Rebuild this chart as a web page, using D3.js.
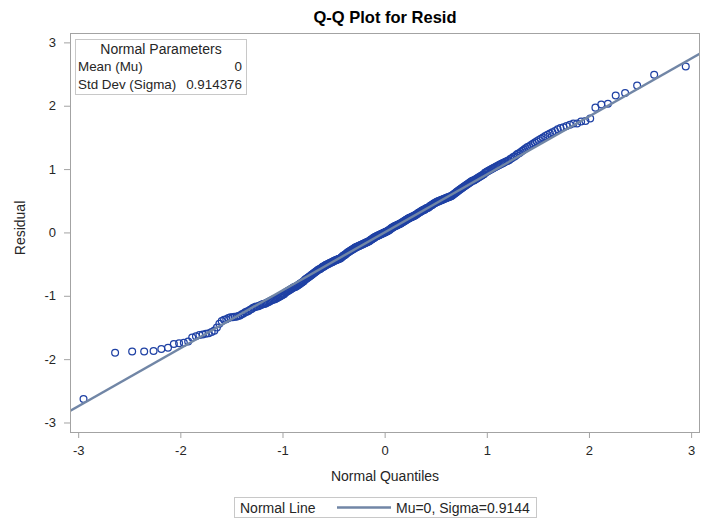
<!DOCTYPE html>
<html>
<head>
<meta charset="utf-8">
<script src="https://cdn.jsdelivr.net/npm/d3@7"></script>
<style>
  html, body { margin: 0; padding: 0; background: #fff; }
  svg { display: block; font-family: "Liberation Sans", Arial, sans-serif; }
</style>
</head>
<body>
<svg id="chart" width="712" height="519"></svg>
<script>
// Sorted residuals (one per observation)
const residuals = [
  -2.63, -1.90, -1.88, -1.88, -1.87, -1.84, -1.82, -1.76, -1.75, -1.74,
  -1.72, -1.66, -1.64, -1.62, -1.61, -1.60, -1.59, -1.57, -1.55, -1.50,
  -1.44, -1.40, -1.38, -1.37, -1.35, -1.34, -1.34, -1.33, -1.33, -1.32,
  -1.31, -1.29, -1.28, -1.26, -1.25, -1.24, -1.22, -1.21, -1.19, -1.18,
  -1.17, -1.17, -1.16, -1.15, -1.14, -1.13, -1.13, -1.12, -1.11, -1.10,
  -1.09, -1.08, -1.07, -1.06, -1.06, -1.05, -1.04, -1.03, -1.02, -1.01,
  -1.00, -0.99, -0.98, -0.97, -0.95, -0.94, -0.93, -0.92, -0.91, -0.90,
  -0.89, -0.88, -0.87, -0.86, -0.86, -0.85, -0.84, -0.83, -0.82, -0.81,
  -0.80, -0.79, -0.78, -0.77, -0.75, -0.74, -0.73, -0.72, -0.71, -0.70,
  -0.69, -0.68, -0.67, -0.66, -0.65, -0.64, -0.63, -0.62, -0.61, -0.60,
  -0.59, -0.58, -0.58, -0.57, -0.56, -0.55, -0.54, -0.54, -0.53, -0.52,
  -0.51, -0.51, -0.50, -0.50, -0.49, -0.48, -0.48, -0.47, -0.47, -0.46,
  -0.45, -0.45, -0.44, -0.44, -0.43, -0.43, -0.42, -0.42, -0.41, -0.41,
  -0.40, -0.39, -0.38, -0.37, -0.36, -0.36, -0.35, -0.34, -0.33, -0.32,
  -0.31, -0.31, -0.30, -0.29, -0.28, -0.28, -0.27, -0.26, -0.26, -0.25,
  -0.24, -0.24, -0.23, -0.23, -0.22, -0.22, -0.21, -0.21, -0.20, -0.20,
  -0.19, -0.19, -0.18, -0.18, -0.17, -0.17, -0.16, -0.16, -0.15, -0.15,
  -0.14, -0.14, -0.13, -0.12, -0.11, -0.11, -0.10, -0.09, -0.09, -0.08,
  -0.07, -0.07, -0.06, -0.06, -0.05, -0.05, -0.04, -0.04, -0.03, -0.03,
  -0.02, -0.02, -0.01, -0.01, 0.00,
  0.00, 0.01, 0.01, 0.02, 0.02, 0.03,
  0.04, 0.04, 0.05, 0.06, 0.07, 0.07, 0.08, 0.09, 0.09, 0.10,
  0.10, 0.11, 0.11, 0.12, 0.12, 0.13, 0.13, 0.14, 0.14, 0.15,
  0.16, 0.16, 0.17, 0.18, 0.18, 0.19, 0.20, 0.20, 0.21, 0.22,
  0.22, 0.23, 0.23, 0.24, 0.24, 0.25, 0.25, 0.26, 0.26, 0.27,
  0.28, 0.28, 0.29, 0.30, 0.31, 0.31, 0.32, 0.33, 0.33, 0.34,
  0.35, 0.35, 0.36, 0.36, 0.37, 0.38, 0.38, 0.39, 0.39, 0.40,
  0.41, 0.42, 0.43, 0.43, 0.44, 0.45, 0.46, 0.46, 0.47, 0.48,
  0.48, 0.49, 0.49, 0.50, 0.50, 0.51, 0.51, 0.52, 0.52, 0.53,
  0.53, 0.54, 0.54, 0.55, 0.55, 0.56, 0.56, 0.57, 0.57, 0.58,
  0.59, 0.60, 0.61, 0.62, 0.63, 0.64, 0.65, 0.66, 0.67, 0.68,
  0.69, 0.70, 0.71, 0.72, 0.73, 0.74, 0.75, 0.76, 0.77, 0.78,
  0.79, 0.80, 0.81, 0.82, 0.82, 0.83, 0.84, 0.85, 0.86, 0.87,
  0.88, 0.89, 0.90, 0.91, 0.92, 0.94, 0.95, 0.96, 0.97, 0.98,
  0.99, 1.00, 1.01, 1.02, 1.03, 1.04, 1.05, 1.06, 1.07, 1.08,
  1.09, 1.10, 1.11, 1.12, 1.13, 1.14, 1.16, 1.17, 1.19, 1.20,
  1.22, 1.24, 1.25, 1.27, 1.29, 1.31, 1.33, 1.35, 1.36, 1.38,
  1.40, 1.42, 1.44, 1.46, 1.48, 1.50, 1.52, 1.54, 1.56, 1.58,
  1.60, 1.63, 1.65, 1.66, 1.68, 1.70, 1.72, 1.72, 1.75, 1.76,
  1.80, 1.97, 2.02, 2.03, 2.16, 2.20, 2.32, 2.49, 2.62
];

// Fitted normal distribution
const mu = 0;
const sigma = 0.914376;
const paramRows = ["Mean (Mu)", "Std Dev (Sigma)"];
const paramValues = ["0", "0.914376"];
const xTicks = [-3, -2, -1, 0, 1, 2, 3];
const yTicks = [-3, -2, -1, 0, 1, 2, 3];
const legendLabel = "Normal Line";
const legendEntry = "Mu=0, Sigma=0.9144";

// Inverse standard normal CDF (Acklam's rational approximation)
function qnorm(p) {
  const a = [-3.969683028665376e+01, 2.209460984245205e+02, -2.759285104469687e+02,
             1.383577518672690e+02, -3.066479806614716e+01, 2.506628277459239e+00];
  const b = [-5.447609879822406e+01, 1.615858368580409e+02, -1.556989798598866e+02,
             6.680131188771972e+01, -1.328068155288572e+01];
  const c = [-7.784894002430293e-03, -3.223964580411365e-01, -2.400758277161838e+00,
             -2.549732539343734e+00, 4.374664141464968e+00, 2.938163982698783e+00];
  const d = [7.784695709041462e-03, 3.224671290700398e-01, 2.445134137142996e+00,
             3.754408661907416e+00];
  const pl = 0.02425, ph = 1 - pl;
  let q, r;
  if (p < pl) {
    q = Math.sqrt(-2 * Math.log(p));
    return (((((c[0]*q+c[1])*q+c[2])*q+c[3])*q+c[4])*q+c[5]) /
           ((((d[0]*q+d[1])*q+d[2])*q+d[3])*q+1);
  }
  if (p <= ph) {
    q = p - 0.5; r = q * q;
    return (((((a[0]*r+a[1])*r+a[2])*r+a[3])*r+a[4])*r+a[5])*q /
           (((((b[0]*r+b[1])*r+b[2])*r+b[3])*r+b[4])*r+1);
  }
  q = Math.sqrt(-2 * Math.log(1 - p));
  return -(((((c[0]*q+c[1])*q+c[2])*q+c[3])*q+c[4])*q+c[5]) /
          ((((d[0]*q+d[1])*q+d[2])*q+d[3])*q+1);
}

// Blom plotting positions
const sorted = residuals.slice().sort(d3.ascending);
const n = sorted.length;
const points = sorted.map((v, i) => ({ q: qnorm((i + 1 - 0.375) / (n + 0.25)), r: v }));

const svg = d3.select("#chart");
const L = 70, R = 700, T = 33, B = 432;

const x = d3.scaleLinear().domain([-3.08, 3.087]).range([L, R]);
const y = d3.scaleLinear().domain([-3.15, 3.148]).range([B, T]);

const axisColor = "#a3a3a3";
const textColor = "#262626";
const markerColor = "#1f41a4";
const lineColor = "#7186a6";

// Title
svg.append("text")
  .attr("x", (L + R) / 2).attr("y", 23)
  .attr("text-anchor", "middle")
  .attr("font-size", "16.5px").attr("font-weight", "bold")
  .attr("fill", "#000")
  .text("Q-Q Plot for Resid");

// Axes
const fmt = v => String(v);
const xAxis = svg.append("g")
  .attr("transform", `translate(0,${B})`)
  .call(d3.axisBottom(x).tickValues(xTicks).tickFormat(fmt).tickSize(6).tickSizeOuter(0).tickPadding(8));
const yAxis = svg.append("g")
  .attr("transform", `translate(${L},0)`)
  .call(d3.axisLeft(y).tickValues(yTicks).tickFormat(fmt).tickSize(6).tickSizeOuter(0).tickPadding(8));
[xAxis, yAxis].forEach(g => {
  g.select(".domain").remove();
  g.selectAll(".tick line").attr("stroke", axisColor);
  g.selectAll(".tick text")
    .attr("fill", textColor)
    .attr("font-size", "13px")
    .attr("font-family", "Liberation Sans, Arial, sans-serif");
});

// Plot frame
svg.append("rect")
  .attr("x", L + 0.5).attr("y", T + 0.5)
  .attr("width", R - L - 1).attr("height", B - T)
  .attr("fill", "none").attr("stroke", axisColor).attr("stroke-width", 1);

// Axis labels
svg.append("text")
  .attr("x", (L + R) / 2).attr("y", 481)
  .attr("text-anchor", "middle")
  .attr("font-size", "14px").attr("fill", textColor)
  .text("Normal Quantiles");
svg.append("text")
  .attr("transform", `translate(25,228) rotate(-90)`)
  .attr("text-anchor", "middle")
  .attr("font-size", "14px").attr("fill", textColor)
  .text("Residual");

// Clip to plot area
svg.append("defs").append("clipPath").attr("id", "plotClip")
  .append("rect").attr("x", L + 1).attr("y", T + 1)
  .attr("width", R - L - 2).attr("height", B - T - 1);

const plot = svg.append("g").attr("clip-path", "url(#plotClip)");

// Observations
plot.append("g").selectAll("circle")
  .data(points)
  .join("circle")
  .attr("cx", d => x(d.q))
  .attr("cy", d => y(d.r))
  .attr("r", 3.4)
  .attr("fill", "none")
  .attr("stroke", markerColor)
  .attr("stroke-width", 1.25);

// Reference normal line
const xd = x.domain();
plot.append("line")
  .attr("x1", x(xd[0])).attr("y1", y(mu + sigma * xd[0]))
  .attr("x2", x(xd[1])).attr("y2", y(mu + sigma * xd[1]))
  .attr("stroke", lineColor).attr("stroke-width", 2.4);

// Inset parameter table
const inset = svg.append("g");
inset.append("rect")
  .attr("x", 75.5).attr("y", 39.5).attr("width", 171).attr("height", 55)
  .attr("fill", "#fff").attr("stroke", "#c8c8c8");
inset.append("text")
  .attr("x", 161).attr("y", 54)
  .attr("text-anchor", "middle").attr("font-size", "14px").attr("fill", textColor)
  .text("Normal Parameters");
paramRows.forEach((lab, i) => {
  inset.append("text")
    .attr("x", 78).attr("y", 71 + i * 17.5)
    .attr("font-size", "13.4px").attr("fill", textColor)
    .text(lab);
  inset.append("text")
    .attr("x", 242).attr("y", 71 + i * 17.5)
    .attr("text-anchor", "end")
    .attr("font-size", "13.4px").attr("fill", textColor)
    .text(paramValues[i]);
});

// Bottom legend
const leg = svg.append("g");
leg.append("rect")
  .attr("x", 234.5).attr("y", 497.5).attr("width", 302).attr("height", 20)
  .attr("fill", "#fff").attr("stroke", "#c8c8c8");
leg.append("text")
  .attr("x", 240).attr("y", 512.5)
  .attr("font-size", "14px").attr("fill", textColor)
  .text(legendLabel);
leg.append("line")
  .attr("x1", 337).attr("x2", 391).attr("y1", 507.5).attr("y2", 507.5)
  .attr("stroke", lineColor).attr("stroke-width", 2.4);
leg.append("text")
  .attr("x", 396).attr("y", 512.5)
  .attr("font-size", "14px").attr("fill", textColor)
  .text(legendEntry);
</script>
</body>
</html>
